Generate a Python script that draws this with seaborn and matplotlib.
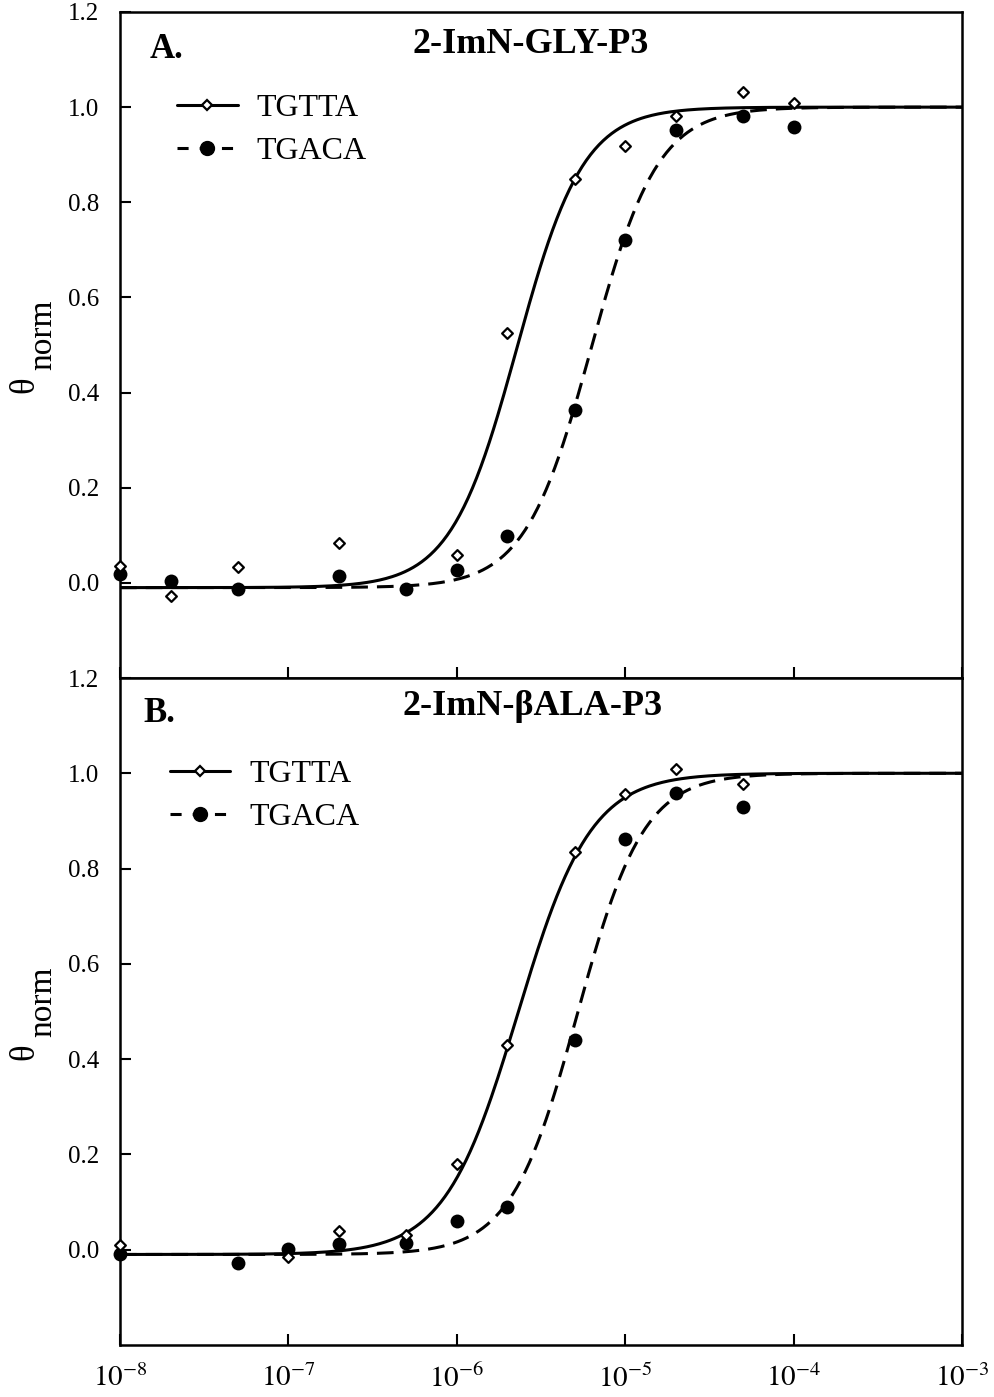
import numpy as np
import pandas as pd
import matplotlib
matplotlib.use("Agg")
import matplotlib.pyplot as plt
from matplotlib.lines import Line2D
from matplotlib.ticker import NullLocator
import seaborn as sns

# ---- measured fractional occupancy ----
a_tgtta_conc = [1e-8, 2e-8, 5e-8, 2e-7, 1e-6, 2e-6, 5e-6, 1e-5, 2e-5, 5e-5, 1e-4]
a_tgtta_theta = [0.036, -0.027, 0.034, 0.084, 0.059, 0.525, 0.849, 0.918, 0.981, 1.032, 1.008]
a_tgaca_conc = [1e-8, 2e-8, 5e-8, 2e-7, 5e-7, 1e-6, 2e-6, 5e-6, 1e-5, 2e-5, 5e-5, 1e-4]
a_tgaca_theta = [0.019, 0.004, -0.013, 0.015, -0.013, 0.027, 0.099, 0.363, 0.72, 0.952, 0.981, 0.958]

b_tgtta_conc = [1e-8, 1e-7, 2e-7, 5e-7, 1e-6, 2e-6, 5e-6, 1e-5, 2e-5, 5e-5]
b_tgtta_theta = [0.01, -0.015, 0.04, 0.03, 0.18, 0.43, 0.834, 0.956, 1.01, 0.977]
b_tgaca_conc = [1e-8, 5e-8, 1e-7, 2e-7, 5e-7, 1e-6, 2e-6, 5e-6, 1e-5, 2e-5, 5e-5]
b_tgaca_theta = [-0.01, -0.027, 0.002, 0.013, 0.015, 0.06, 0.09, 0.44, 0.863, 0.958, 0.93]

# ---- binding isotherm fit parameters: (half-saturation conc, Hill n) ----
theta_min, theta_max = -0.01, 1.0
a_tgtta_fit = (2.28e-6, 2.2)
a_tgaca_fit = (6.3e-6, 2.2)
b_tgtta_fit = (2.3e-6, 2.0)
b_tgaca_fit = (5.2e-6, 2.2)

site_labels = ["TGTTA", "TGACA"]
panel_letters = ["A.", "B."]
panel_titles = ["2-ImN-GLY-P3", "2-ImN-\u03b2ALA-P3"]
x_tick_vals = [1e-8, 1e-7, 1e-6, 1e-5, 1e-4, 1e-3]
x_tick_labels = ["$10^{-8}$", "$10^{-7}$", "$10^{-6}$", "$10^{-5}$", "$10^{-4}$", "$10^{-3}$"]
y_tick_vals = [0.0, 0.2, 0.4, 0.6, 0.8, 1.0, 1.2]

sns.set_theme(style="ticks")
plt.rcParams["font.family"] = ["Liberation Serif", "DejaVu Serif"]
plt.rcParams["mathtext.fontset"] = "stix"
plt.rcParams["lines.scale_dashes"] = False
plt.rcParams["text.color"] = "black"
plt.rcParams["axes.labelcolor"] = "black"
plt.rcParams["xtick.color"] = "black"
plt.rcParams["ytick.color"] = "black"

W, H = 994, 1397
fig = plt.figure(figsize=(W / 100, H / 100), dpi=100)


def frac_box(left, top, right, bottom):
    return [left / W, 1 - bottom / H, (right - left) / W, (bottom - top) / H]


axA = fig.add_axes(frac_box(120, 12, 962, 678))
axB = fig.add_axes(frac_box(120, 678, 962, 1345))

DASH = (12, 6.5)
LW = 2.2


def isotherm(conc, k_half, n):
    c = np.asarray(conc)
    return theta_min + (theta_max - theta_min) / (1.0 + (k_half / c) ** n)


def draw_panel(ax, pts_open, pts_filled, fit_open, fit_filled):
    grid = np.logspace(-8, -3, 400)
    curve_open = pd.DataFrame({"conc": grid, "theta": isotherm(grid, *fit_open)})
    curve_filled = pd.DataFrame({"conc": grid, "theta": isotherm(grid, *fit_filled)})
    sns.lineplot(data=curve_open, x="conc", y="theta", ax=ax, color="black",
                 lw=LW, zorder=2)
    sns.lineplot(data=curve_filled, x="conc", y="theta", ax=ax, color="black",
                 lw=LW, zorder=2)
    ax.lines[-1].set_dashes(DASH)

    df_open = pd.DataFrame({"conc": pts_open[0], "theta": pts_open[1]})
    df_filled = pd.DataFrame({"conc": pts_filled[0], "theta": pts_filled[1]})
    sns.scatterplot(data=df_open, x="conc", y="theta", ax=ax, marker="D", s=30,
                    facecolor="white", edgecolor="black", linewidth=1.6,
                    zorder=4, clip_on=False)
    sns.scatterplot(data=df_filled, x="conc", y="theta", ax=ax, marker="o", s=100,
                    color="black", edgecolor="black", linewidth=0, zorder=3,
                    clip_on=False)

    ax.set_xscale("log")
    ax.set_xlim(1e-8, 1e-3)
    ax.set_ylim(-0.2, 1.2)
    ax.set_xticks(x_tick_vals)
    ax.xaxis.set_minor_locator(NullLocator())
    ax.set_yticks(y_tick_vals)
    ax.set_yticklabels([f"{v:.1f}" for v in y_tick_vals])
    ax.set_xlabel("")
    ax.set_ylabel("")
    for sp in ax.spines.values():
        sp.set_visible(True)
        sp.set_linewidth(1.8)
        sp.set_color("black")
    ax.tick_params(axis="both", direction="in", length=8, width=1.5,
                   color="black", labelcolor="black")
    ax.tick_params(axis="y", pad=15, labelsize=18)
    ax.tick_params(axis="x", pad=14, labelsize=21)


draw_panel(axA, (a_tgtta_conc, a_tgtta_theta), (a_tgaca_conc, a_tgaca_theta),
           a_tgtta_fit, a_tgaca_fit)
draw_panel(axB, (b_tgtta_conc, b_tgtta_theta), (b_tgaca_conc, b_tgaca_theta),
           b_tgtta_fit, b_tgaca_fit)

axA.tick_params(axis="x", labelbottom=False)
axB.set_xticklabels(x_tick_labels)

# panel letters, titles, legends
letter_pos = [(0.0356, 0.931), (0.0273, 0.934)]
title_pos = [(0.488, 0.938), (0.490, 0.944)]
legend_anchor = [(0.0677, 0.877), (0.059, 0.877)]
for ax, letter, title, lp, tp, la in zip([axA, axB], panel_letters, panel_titles,
                                         letter_pos, title_pos, legend_anchor):
    ax.text(lp[0], lp[1], letter, transform=ax.transAxes, fontsize=25,
            fontweight="bold", ha="left", va="baseline")
    ax.text(tp[0], tp[1], title, transform=ax.transAxes, fontsize=26,
            fontweight="bold", ha="center", va="baseline")
    h_open = Line2D([], [], color="black", lw=LW, marker="D", ms=5.5,
                    mfc="white", mec="black", mew=1.6)
    h_filled = Line2D([], [], color="black", lw=LW, marker="o", ms=10,
                      mfc="black", mec="black", dashes=(8, 8))
    ax.legend([h_open, h_filled], site_labels, loc="upper left",
              bbox_to_anchor=la, frameon=False, fontsize=23, borderpad=0,
              borderaxespad=0, handlelength=1.9, handletextpad=0.6,
              labelspacing=0.42, numpoints=1)

# rotated axis titles: theta with lowered "norm"
for top_px, bot_px in [(12, 678), (678, 1345)]:
    mid = (top_px + bot_px) / 2
    fig.text(25 / W, 1 - (mid + 40) / H, "\u03b8", rotation=90, fontsize=25,
             ha="center", va="center")
    fig.text(43 / W, 1 - (mid - 10) / H, "norm", rotation=90, fontsize=24,
             ha="center", va="center")

fig.savefig("out.png", dpi=100)
